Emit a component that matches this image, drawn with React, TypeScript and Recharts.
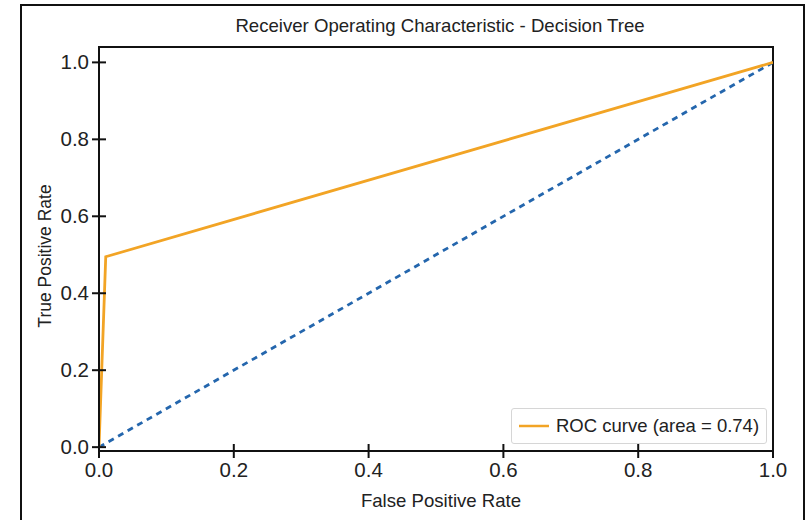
import React from "react";
import {
  Legend,
  Line,
  LineChart,
  ReferenceArea,
  XAxis,
  YAxis,
} from "recharts";

// ROC points for the decision tree
const fprValues = [0, 0.01, 1];
const tprValues = [0, 0.495, 1];
// chance diagonal
const chanceValues = [0, 1];
const xTicks = [0, 0.2, 0.4, 0.6, 0.8, 1.0];
const yTicks = [0, 0.2, 0.4, 0.6, 0.8, 1.0];
const rocLabel = "ROC curve (area = 0.74)";

const rocData = fprValues.map((fpr, i) => ({ fpr, tpr: tprValues[i] }));
const chanceData = chanceValues.map((v) => ({ fpr: v, tpr: v }));

const FONT = '"Liberation Sans", Arial, Helvetica, sans-serif';
const ORANGE = "#f2a425";
const BLUE = "#2466ad";

const XTick = (props: any) => {
  const { x, y, payload } = props;
  return (
    <g>
      <line x1={x} x2={x} y1={y - 7} y2={y + 7} stroke="#111" strokeWidth={2} />
      <text
        x={x}
        y={y + 26}
        textAnchor="middle"
        fontSize={20.5}
        fontFamily={FONT}
        fill="#222"
      >
        {Number(payload.value).toFixed(1)}
      </text>
    </g>
  );
};

const YTick = (props: any) => {
  const { x, y, payload } = props;
  return (
    <g>
      <line x1={x - 7} x2={x + 7} y1={y} y2={y} stroke="#111" strokeWidth={2} />
      <text
        x={x - 10}
        y={y + 7}
        textAnchor="end"
        fontSize={20.5}
        fontFamily={FONT}
        fill="#222"
      >
        {Number(payload.value).toFixed(1)}
      </text>
    </g>
  );
};

const LegendBox = () => (
  <div
    style={{
      width: 254,
      height: 34,
      border: "1px solid #d6d6d6",
      borderRadius: 3,
      background: "rgba(255,255,255,0.85)",
      display: "flex",
      alignItems: "center",
      fontFamily: FONT,
      fontSize: 18.5,
      color: "#222",
    }}
  >
    <svg width={44} height={10}>
      <line x1={7} x2={37} y1={5} y2={5} stroke={ORANGE} strokeWidth={2.5} />
    </svg>
    <span>{rocLabel}</span>
  </div>
);

export default function App() {
  return (
    <div
      style={{
        position: "absolute",
        left: 0,
        top: 0,
        width: 809,
        height: 520,
        background: "#fff",
        overflow: "hidden",
        fontFamily: FONT,
      }}
    >
      <div
        style={{
          position: "absolute",
          left: 20,
          top: 4,
          width: 781,
          height: 560,
          border: "2px solid #111",
        }}
      />
      <div
        style={{
          position: "absolute",
          left: 103,
          width: 674,
          top: 15,
          textAlign: "center",
          fontSize: 18.6,
          color: "#222",
        }}
      >
        Receiver Operating Characteristic - Decision Tree
      </div>
      <div
        style={{
          position: "absolute",
          left: 104,
          width: 674,
          top: 490,
          textAlign: "center",
          fontSize: 18.6,
          color: "#222",
        }}
      >
        False Positive Rate
      </div>
      <div
        style={{
          position: "absolute",
          left: 45,
          top: 256,
          transform: "translate(-50%, -50%) rotate(-90deg)",
          whiteSpace: "nowrap",
          fontSize: 17.5,
          color: "#222",
        }}
      >
        True Positive Rate
      </div>
      <div style={{ position: "absolute", left: 0, top: 0 }}>
        <LineChart
          width={809}
          height={520}
          margin={{ top: 47, right: 36, bottom: 29, left: 39 }}
        >
          <XAxis
            dataKey="fpr"
            type="number"
            domain={[0, 1]}
            ticks={xTicks}
            height={40}
            tickSize={0}
            tickMargin={0}
            tickLine={false}
            axisLine={{ stroke: "#111", strokeWidth: 2 }}
            tick={<XTick />}
            allowDataOverflow
          />
          <YAxis
            type="number"
            domain={[-0.01, 1.04]}
            ticks={yTicks}
            width={60}
            tickSize={0}
            tickMargin={0}
            tickLine={false}
            axisLine={{ stroke: "#111", strokeWidth: 2 }}
            tick={<YTick />}
            allowDataOverflow
          />
          <ReferenceArea
            x1={0}
            x2={1}
            y1={-0.01}
            y2={1.04}
            fill="none"
            stroke="#111"
            strokeWidth={2}
            ifOverflow="visible"
          />
          <Line
            data={chanceData}
            dataKey="tpr"
            stroke={BLUE}
            strokeWidth={2.8}
            strokeDasharray="6 5"
            dot={false}
            legendType="none"
            isAnimationActive={false}
          />
          <Line
            data={rocData}
            dataKey="tpr"
            name={rocLabel}
            stroke={ORANGE}
            strokeWidth={2.8}
            dot={false}
            isAnimationActive={false}
          />
          <Legend
            layout="vertical"
            align="center"
            verticalAlign="middle"
            content={<LegendBox />}
            wrapperStyle={{ left: 511, top: 408, width: 256, height: 36 }}
          />
        </LineChart>
      </div>
    </div>
  );
}
